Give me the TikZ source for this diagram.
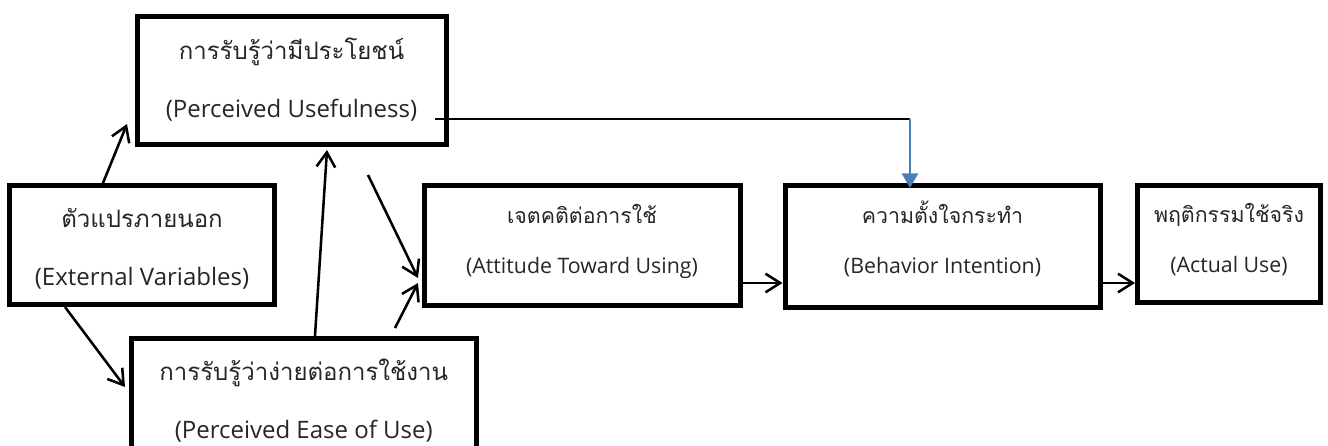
\documentclass[tikz,border=0pt]{standalone}
\usepackage{fontspec}
\setmainfont{Open Sans}
\newfontfamily\thaifont[Script=Thai]{Loma}
\usetikzlibrary{arrows.meta,calc}
\definecolor{link blue}{RGB}{74,126,187}
\tikzset{
    box/.style={draw,line width=3.75pt,inner sep=0pt,align=center,text=black!85,text height=#1,text depth=0pt},
    big text/.style={font=\fontsize{18}{43}\selectfont},
    small text/.style={font=\fontsize{16}{37}\selectfont},
    arr/.style={-{Straight Barb[length=11pt,width=14pt]},line width=1.9pt},
    link/.style={line width=1.5pt},
    blue arr/.style={-{Triangle[length=11pt,width=12pt]},line width=2.2pt,color=link blue},
}

\begin{document}
\begin{tikzpicture}[x=0.75pt,y=-0.75pt]
        \useasboundingbox (0,0) rectangle (1328,446);
        \fill[white] (0,0) rectangle (1328,446);
        \clip (0,0) rectangle (1328,446);

        % boxes
        \node[box=54.75pt,big text,minimum width=231.75pt,minimum height=96pt] (pu) at (291.5,80.5)
            {{\thaifont การรับรู้ว่ามีประโยชน์}\\(Perceived Usefulness)};
        \node[box=60pt,big text,minimum width=198.75pt,minimum height=89.25pt] (ev) at (142,245)
            {{\thaifont ตัวแปรภายนอก}\\(External Variables)};
        \node[box=54pt,big text,minimum width=258.4pt,minimum height=95.25pt] (peou) at (303.75,402)
            {{\thaifont การรับรู้ว่าง่ายต่อการใช้งาน}\\(Perceived Ease of Use)};
        \node[box=41.25pt,small text,minimum width=237pt,minimum height=90pt] (atu) at (582,245.5)
            {{\thaifont เจตคติต่อการใช้}\\(Attitude Toward Using)};
        \node[box=39.75pt,small text,minimum width=236.25pt,minimum height=91.5pt] (bi) at (942.5,246.5)
            {{\thaifont ความตั้งใจกระทำ}\\(Behavior Intention)};
        \node[box=42pt,small text,minimum width=137.25pt,minimum height=87.75pt] (au) at (1229,244)
            {{\thaifont พฤติกรรมใช้จริง}\\(Actual Use)};

        % arrows
        \draw[arr] ($(ev.north west)+(96,0)$) -- ($(pu.south west)+(-7.5,-23)$);
        \draw[arr] ($(ev.south west)+(58,0)$) -- ($(peou.north west)+(-4,51)$);
        \draw[arr] ($(peou.north west)+(186,0)$) -- ($(pu.south west)+(192.5,3)$);
        \draw[arr] ($(pu.south west)+(233.5,28)$) -- ($(atu.west)+(-3.5,32.5)$);
        \draw[arr] ($(peou.north west)+(266,-8)$) -- ($(atu.west)+(-3.5,37.5)$);
        \draw[arr] ($(atu.east)+(0,37.5)$) -- ($(bi.west)+(0,36.5)$);
        \draw[arr] ($(bi.east)+(0,36.5)$) -- ($(au.west)+(0,39)$);

        \coordinate (bend) at ($(bi.north west)+(127.5,-64)$);
        \draw[link] ($(pu.south east)+(-13.5,-28)$) -- (bend);
        \draw[blue arr] (bend) -- ($(bi.north west)+(127.5,5)$);
    \end{tikzpicture}
\end{document}
